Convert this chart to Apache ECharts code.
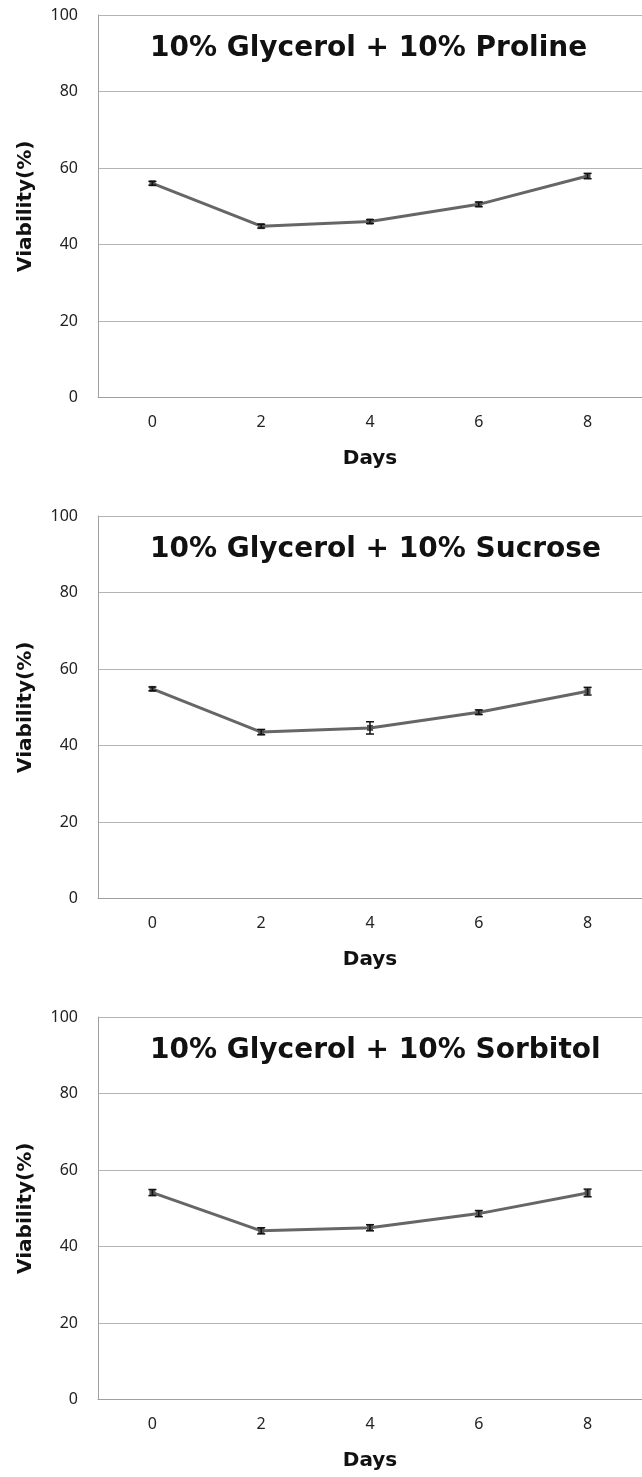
<!DOCTYPE html>
<html>
<head>
<meta charset="utf-8">
<script src="https://cdn.jsdelivr.net/npm/echarts@6/dist/echarts.min.js"></script>
<style>
html,body{margin:0;padding:0;background:#fff;}
#chart{width:642px;height:1477px;}
</style>
</head>
<body>
<div id="chart"></div>
<script>
var days = ['0', '2', '4', '6', '8'];
var yTicks = [0, 20, 40, 60, 80, 100];
var titles = ['10% Glycerol + 10% Proline', '10% Glycerol + 10% Sucrose', '10% Glycerol + 10% Sorbitol'];
var prolineMean = [56.0, 44.8, 46.0, 50.5, 57.9];
var prolineErr = [0.5, 0.5, 0.5, 0.6, 0.7];
var sucroseMean = [54.8, 43.5, 44.6, 48.7, 54.2];
var sucroseErr = [0.5, 0.7, 1.6, 0.6, 1.0];
var sorbitolMean = [54.1, 44.1, 44.9, 48.6, 54.0];
var sorbitolErr = [0.8, 0.8, 0.8, 0.8, 1.0];

var means = [prolineMean, sucroseMean, sorbitolMean];
var errs = [prolineErr, sucroseErr, sorbitolErr];
var tops = [15, 516, 1017];
var plotH = 382.5;
var FONT = '"Noto Sans", "DejaVu Sans", sans-serif';
var BOLD = '"DejaVu Sans", "Noto Sans", sans-serif';

var option = {
  backgroundColor: '#fff',
  animation: false,
  title: [], grid: [], xAxis: [], yAxis: [], series: []
};

for (var k = 0; k < 3; k++) {
  option.title.push({
    text: titles[k],
    left: 145, top: tops[k] + 15,
    textStyle: {fontFamily: BOLD, fontSize: 28, fontWeight: 'bold', color: '#111'}
  });
  option.grid.push({left: 98, top: tops[k], width: 550, height: plotH});
  option.xAxis.push({
    type: 'category', gridIndex: k, data: days, boundaryGap: true,
    name: 'Days', nameLocation: 'middle', nameGap: 51,
    nameTextStyle: {fontFamily: BOLD, fontSize: 20, fontWeight: 'bold', color: '#111'},
    axisLine: {show: true, lineStyle: {color: '#a0a0a0', width: 1}},
    axisTick: {show: false},
    axisLabel: {fontFamily: FONT, fontSize: 16, color: '#222', margin: 17},
    splitLine: {show: false}
  });
  option.yAxis.push({
    type: 'value', gridIndex: k, min: yTicks[0], max: yTicks[yTicks.length - 1], interval: 20,
    name: 'Viability(%)', nameLocation: 'middle', nameGap: 62,
    nameTextStyle: {fontFamily: BOLD, fontSize: 20, fontWeight: 'bold', color: '#111'},
    axisLine: {show: true, lineStyle: {color: '#a0a0a0', width: 1}},
    axisTick: {show: false},
    axisLabel: {fontFamily: FONT, fontSize: 16, color: '#222', margin: 20},
    splitLine: {show: true, lineStyle: {color: '#b4b4b4', width: 1}}
  });
  option.series.push({
    type: 'line', xAxisIndex: k, yAxisIndex: k, data: means[k],
    lineStyle: {color: '#666', width: 3},
    symbol: 'rect', symbolSize: 6,
    itemStyle: {color: '#555'},
    z: 2
  });
  var ebData = means[k].map(function (m, i) { return [i, m - errs[k][i], m + errs[k][i]]; });
  option.series.push({
    type: 'custom', xAxisIndex: k, yAxisIndex: k, data: ebData, z: 3,
    renderItem: function (params, api) {
      var x = api.value(0);
      var lo = api.coord([x, api.value(1)]);
      var hi = api.coord([x, api.value(2)]);
      var w = 4;
      var st = {stroke: '#111', lineWidth: 1.5};
      return {type: 'group', children: [
        {type: 'line', shape: {x1: lo[0], y1: lo[1], x2: hi[0], y2: hi[1]}, style: st},
        {type: 'line', shape: {x1: lo[0] - w, y1: lo[1], x2: lo[0] + w, y2: lo[1]}, style: st},
        {type: 'line', shape: {x1: hi[0] - w, y1: hi[1], x2: hi[0] + w, y2: hi[1]}, style: st}
      ]};
    }
  });
}

var chart = echarts.init(document.getElementById('chart'), null, {renderer: 'canvas'});
chart.setOption(option);
</script>
</body>
</html>
